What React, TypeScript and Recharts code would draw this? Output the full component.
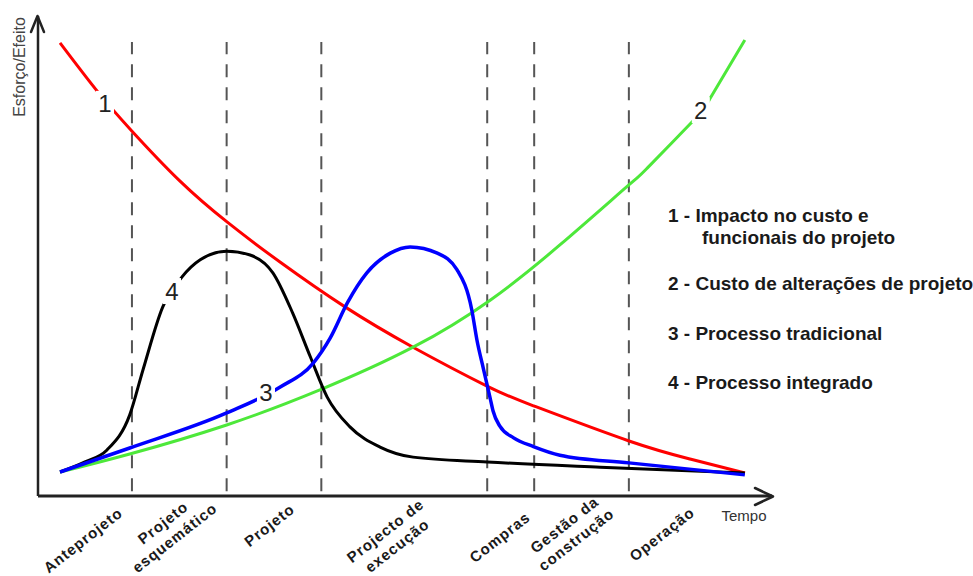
import React from "react";
import { LineChart, Line, XAxis, YAxis, ReferenceLine, ReferenceDot } from "recharts";

// ---- data (x: tempo 0..100, y: esforço/efeito 0..100) ----
const t1 = [3.0, 8.04, 12.81, 19.35, 25.75, 32.97, 41.83, 51.09, 61.17, 67.57, 80.52, 88.83, 96.32];
const impactoCusto = [94.4, 84.4, 76.0, 65.6, 57.1, 48.75, 39.4, 31.0, 22.9, 18.75, 11.46, 7.71, 4.79];

const t2 = [3.0, 12.5, 25.7, 38.4, 51.1, 61.6, 71.1, 80.5, 83.0, 89.1, 91.6, 96.3];
const custoAlteracoes = [5.0, 8.75, 14.8, 22.1, 31.0, 40.8, 52.3, 64.8, 68.3, 77.9, 82.9, 95.0];

const t3 = [3.0, 12.5, 25.7, 33.0, 37.5, 39.8, 42.2, 44.8, 48.0, 50.7, 54.4, 57.1, 59.1, 59.8, 60.7, 61.6, 62.0, 62.9, 64.8, 67.5, 71.1, 80.5, 96.3];
const processoTradicional = [5.0, 10.0, 17.3, 22.7, 27.7, 32.9, 40.4, 46.5, 50.6, 51.9, 50.6, 47.1, 38.75, 32.5, 26.4, 20.4, 17.7, 14.6, 12.1, 10.3, 8.5, 6.9, 4.4];

const t4 = [3.0, 6.4, 9.4, 12.5, 14.3, 17.0, 19.6, 22.1, 25.7, 28.9, 32.0, 34.7, 37.1, 39.4, 42.5, 46.6, 51.1, 61.2, 76.6, 96.3];
const processoIntegrado = [5.0, 7.1, 9.6, 16.9, 26.25, 39.4, 45.6, 49.2, 51.0, 50.2, 46.5, 38.1, 29.0, 20.6, 14.4, 10.2, 8.1, 7.1, 6.0, 4.8];

const phaseBoundaries = [12.8, 25.7, 38.6, 61.2, 67.6, 80.5];
const phaseTicks = [6.1, 17.8, 31.5, 48.1, 62.9, 72.5, 85.0];
const phaseNames = [
  ["Anteprojeto"],
  ["Projeto", "esquemático"],
  ["Projeto"],
  ["Projecto de", "execução"],
  ["Compras"],
  ["Gestão da", "construção"],
  ["Operação"],
];
const curveTags = ["1", "2", "3", "4"];
const curveTagT = [9.13, 90.3, 31.06, 18.26];
const curveTagV = [81.7, 80.4, 21.5, 42.7];

const legendLines = [
  "1 - Impacto no custo e",
  "funcionais do projeto",
  "2 - Custo de alterações de projeto",
  "3 - Processo tradicional",
  "4 - Processo integrado",
];

// ---- layout/style ----
const W = 973;
const H = 576;
const FONT = '"Liberation Sans", Arial, Helvetica, sans-serif';
const phaseLabelDy = [44, 34, 29, 42, 41, 36, 38];
const legendPos = [
  [668, 222],
  [702, 244],
  [668, 290],
  [668, 340],
  [668, 389],
];

const zip = (xs: number[], ys: number[]) => xs.map((t, i) => ({ t, v: ys[i] }));
const redData = zip(t1, impactoCusto);
const greenData = zip(t2, custoAlteracoes);
const blueData = zip(t3, processoTradicional);
const blackData = zip(t4, processoIntegrado);

const PhaseTick = (props: any) => {
  const { x, y, index } = props;
  const lines = phaseNames[index] || [];
  const cy = y + phaseLabelDy[index];
  const lh = 19;
  const start = -((lines.length - 1) * lh) / 2;
  return (
    <g transform={`translate(${x},${cy}) rotate(-38)`}>
      {lines.map((s, i) => (
        <text
          key={i}
          x={0}
          y={start + i * lh}
          textAnchor="middle"
          dominantBaseline="central"
          fontFamily={FONT}
          fontWeight="bold"
          fontSize={15}
          letterSpacing={1}
          fill="#1a1a1a"
        >
          {s}
        </text>
      ))}
    </g>
  );
};

const makeTag = (label: string) => (p: any) => (
  <g>
    <rect x={p.cx - 9} y={p.cy - 13} width={18} height={26} fill="#ffffff" />
    <text
      x={p.cx}
      y={p.cy}
      textAnchor="middle"
      dominantBaseline="central"
      fontFamily={FONT}
      fontSize={24}
      fill="#222"
    >
      {label}
    </text>
  </g>
);

const arrowRight = (p: any) => (
  <polyline
    points={`${p.cx - 17},${p.cy - 8} ${p.cx + 1},${p.cy + 0.5} ${p.cx - 17},${p.cy + 9}`}
    fill="none"
    stroke="#222"
    strokeWidth={2.5}
    strokeLinecap="round"
    strokeLinejoin="round"
  />
);
const arrowUp = (p: any) => (
  <polyline
    points={`${p.cx - 7},${p.cy + 16} ${p.cx - 0.5},${p.cy} ${p.cx + 6},${p.cy + 16}`}
    fill="none"
    stroke="#222"
    strokeWidth={2.5}
    strokeLinecap="round"
    strokeLinejoin="round"
  />
);

export default function App() {
  return (
    <div style={{ position: "absolute", left: 0, top: 0, width: W, height: H, background: "#fff" }}>
      <LineChart width={W} height={H} margin={{ top: 16, right: 201, bottom: 0, left: 0 }}>
        <XAxis
          dataKey="t"
          type="number"
          domain={[0, 100]}
          ticks={phaseTicks}
          interval={0}
          height={80}
          tickLine={false}
          tickSize={0}
          tickMargin={0}
          axisLine={{ stroke: "#222", strokeWidth: 3 }}
          tick={(p: any) => <PhaseTick {...p} />}
        />
        <YAxis
          type="number"
          domain={[0, 100]}
          width={38}
          tick={false}
          tickLine={false}
          axisLine={{ stroke: "#222", strokeWidth: 2.5 }}
        />
        {phaseBoundaries.map((t) => (
          <ReferenceLine
            key={t}
            segment={[
              { x: t, y: 1 },
              { x: t, y: 94.6 },
            ]}
            stroke="#555"
            strokeWidth={2}
            strokeDasharray="13 10"
            zIndex={-10}
          />
        ))}
        <Line data={redData} dataKey="v" type="natural" stroke="#ff0000" strokeWidth={3} dot={false} isAnimationActive={false} />
        <Line data={greenData} dataKey="v" type="natural" stroke="#4de83a" strokeWidth={3} dot={false} isAnimationActive={false} />
        <Line data={blackData} dataKey="v" type="monotone" stroke="#000000" strokeWidth={3} dot={false} isAnimationActive={false} />
        <Line data={blueData} dataKey="v" type="monotone" stroke="#0000ff" strokeWidth={3.5} dot={false} isAnimationActive={false} />
        {curveTags.map((c, i) => (
          <ReferenceDot
            key={c}
            x={curveTagT[i]}
            y={curveTagV[i]}
            r={1}
            ifOverflow="visible"
            shape={makeTag(c)}
            zIndex={1500}
          />
        ))}
        <ReferenceDot x={100} y={0} r={1} ifOverflow="visible" shape={arrowRight} zIndex={1500} />
        <ReferenceDot x={0} y={100} r={1} ifOverflow="visible" shape={arrowUp} zIndex={1500} />
      </LineChart>
      <svg
        width={W}
        height={H}
        style={{ position: "absolute", left: 0, top: 0, pointerEvents: "none" }}
      >
        <text
          transform="translate(19,67) rotate(-90)"
          textAnchor="middle"
          dominantBaseline="central"
          fontFamily={FONT}
          fontSize={16}
          fill="#444"
        >
          Esforço/Efeito
        </text>
        <text x={744} y={521} textAnchor="middle" fontFamily={FONT} fontSize={15} fill="#333">
          Tempo
        </text>
        {legendLines.map((s, i) => (
          <text
            key={i}
            x={legendPos[i][0]}
            y={legendPos[i][1]}
            fontFamily={FONT}
            fontWeight="bold"
            fontSize={19}
            fill="#1a1a1a"
          >
            {s}
          </text>
        ))}
      </svg>
    </div>
  );
}
